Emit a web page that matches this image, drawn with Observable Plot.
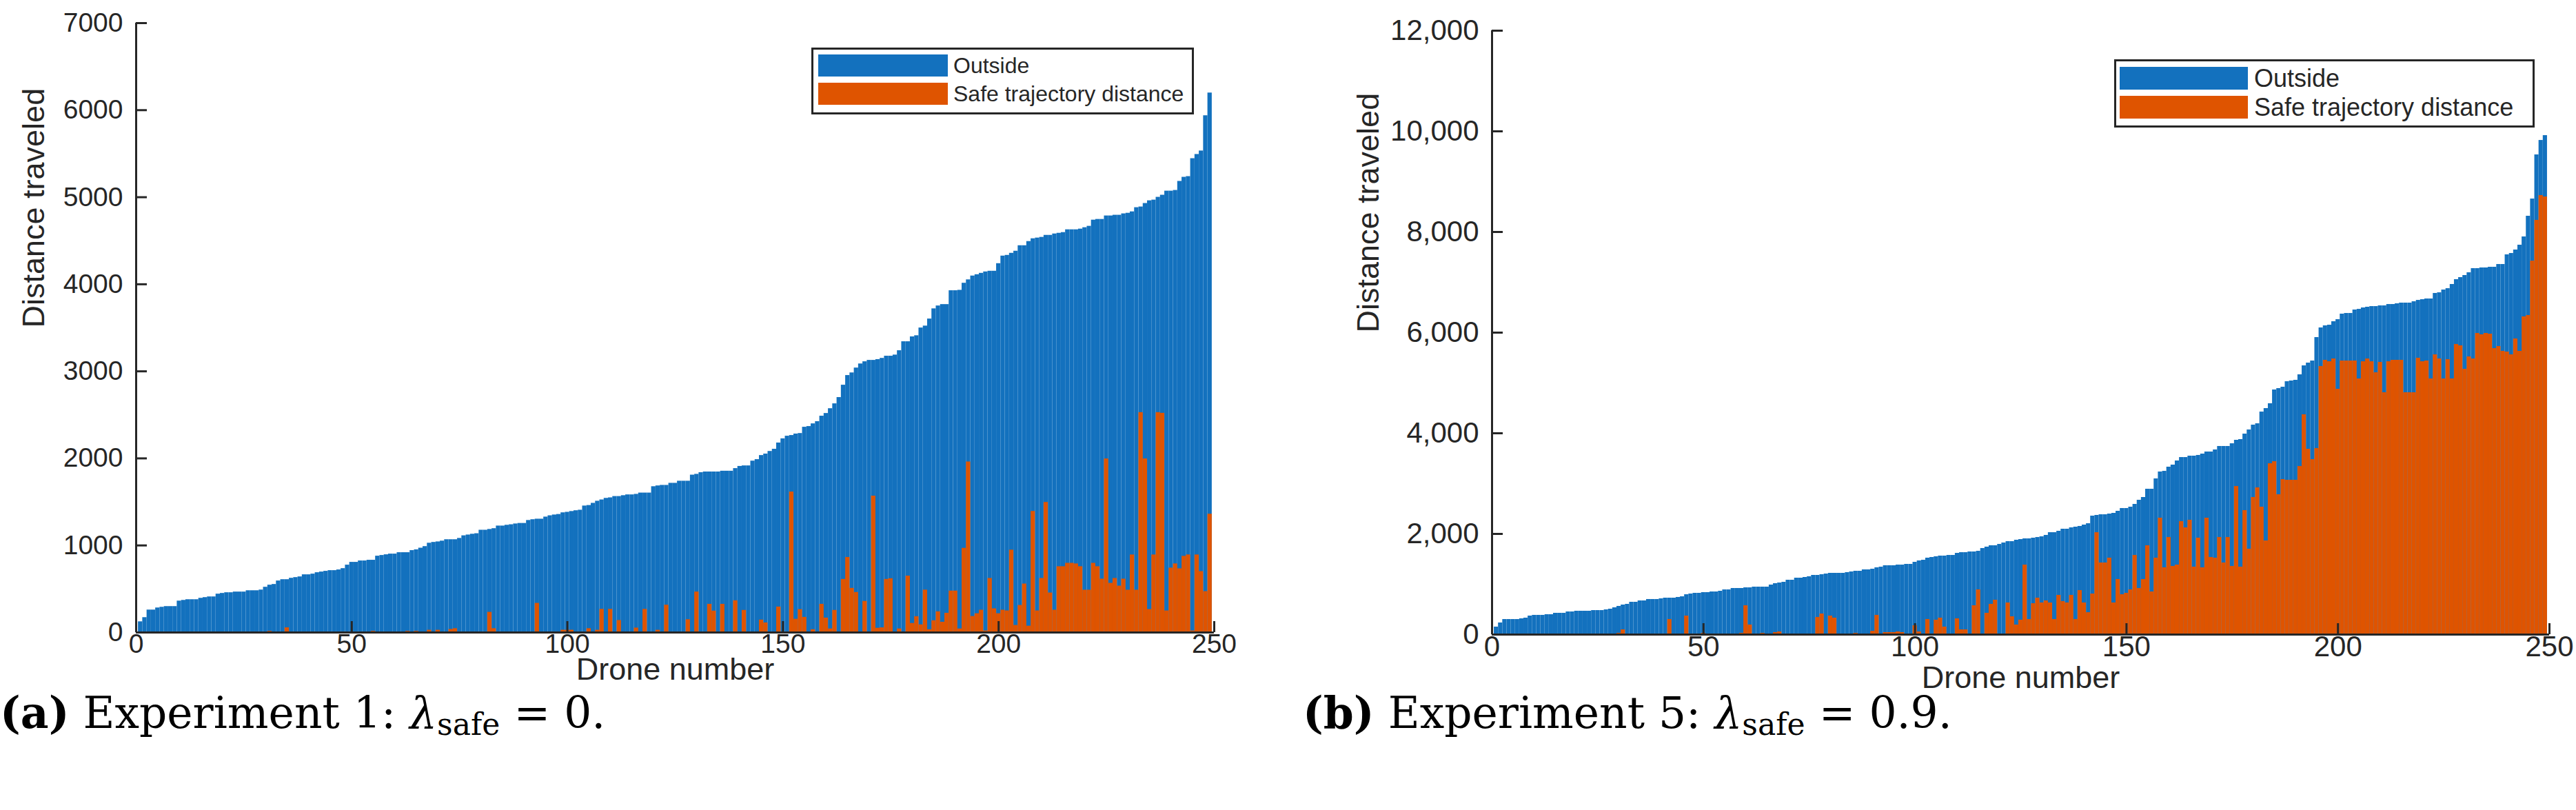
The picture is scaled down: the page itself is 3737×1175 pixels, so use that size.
<!DOCTYPE html>
<html>
<head>
<meta charset="utf-8">
<script src="https://cdn.jsdelivr.net/npm/d3@7"></script>
<script src="https://cdn.jsdelivr.net/npm/@observablehq/plot@0.6"></script>
<style>
  body { margin: 0; background: #fff; width: 3737px; height: 1175px; position: relative; overflow: hidden;
         font-family: "Liberation Sans", Arial, sans-serif; color: #262626; }
  .panel { position: absolute; top: 0; }
  .legend { position: absolute; box-sizing: border-box; border: 3px solid #262626; background: #fff; }
  .legend .row { position: absolute; display: flex; align-items: center; }
  .legend span { white-space: nowrap; }
  .cap { position: absolute; top: 1002px; font-family: "DejaVu Serif", "Liberation Serif", serif;
         font-size: 63px; line-height: 64px; color: #000; white-space: nowrap; }
  .cap sub { font-size: 0.7em; vertical-align: -0.22em; line-height: 0; }
</style>
</head>
<body>
<div id="left" class="panel" style="left:0"></div>
<div id="right" class="panel" style="left:1868px"></div>

<div class="legend" style="left:1177px; top:69px; width:555px; height:97px">
  <div class="row" style="left:7px; top:7px; height:32px">
    <div style="width:188px; height:32px; margin-right:8px; background:#1371be"></div>
    <span style="font-size:32px">Outside</span></div>
  <div class="row" style="left:7px; top:48px; height:32px">
    <div style="width:188px; height:32px; margin-right:8px; background:#df5400"></div>
    <span style="font-size:32px">Safe trajectory distance</span></div>
</div>
<div class="legend" style="left:3067px; top:86px; width:610px; height:99px">
  <div class="row" style="left:5px; top:8px; height:33px">
    <div style="width:186px; height:33px; margin-right:9px; background:#1371be"></div>
    <span style="font-size:36px">Outside</span></div>
  <div class="row" style="left:5px; top:50px; height:33px">
    <div style="width:186px; height:33px; margin-right:9px; background:#df5400"></div>
    <span style="font-size:36px">Safe trajectory distance</span></div>
</div>

<div class="cap" style="left:0"><b>(a)</b> Experiment 1: <i>λ</i><sub>safe</sub> = 0.</div>
<div class="cap" style="left:1890px"><b>(b)</b> Experiment 5: <i>λ</i><sub>safe</sub> = 0.9.</div>

<script>
const BLUE = "#1371be";
const ORANGE = "#df5400";
const INK = "#262626";

// Experiment 1 (lambda_safe = 0), drones 1..249, sorted by total distance
const leftOutside = [
  124, 172, 259, 259, 283, 291, 299, 299, 299, 362,
  370, 378, 378, 378, 394, 402, 410, 410, 442, 450,
  458, 458, 466, 466, 466, 481, 481, 481, 489, 521,
  545, 553, 593, 608, 608, 624, 632, 640, 664, 664,
  672, 688, 696, 704, 712, 712, 720, 735, 775, 807,
  807, 823, 823, 831, 831, 878, 886, 894, 902, 902,
  918, 918, 918, 942, 951, 970, 988, 1027, 1036, 1042,
  1051, 1067, 1067, 1067, 1082, 1112, 1121, 1130, 1136, 1176,
  1176, 1185, 1194, 1224, 1224, 1233, 1239, 1248, 1254, 1254,
  1288, 1297, 1303, 1303, 1327, 1342, 1351, 1357, 1376, 1382,
  1391, 1400, 1406, 1454, 1460, 1485, 1509, 1524, 1542, 1548,
  1563, 1563, 1573, 1582, 1582, 1588, 1603, 1603, 1603, 1676,
  1685, 1691, 1691, 1715, 1715, 1739, 1739, 1739, 1809, 1818,
  1837, 1845, 1845, 1845, 1845, 1854, 1854, 1854, 1884, 1909,
  1915, 1915, 1970, 1987, 2034, 2051, 2081, 2106, 2178, 2226,
  2256, 2264, 2281, 2287, 2359, 2367, 2398, 2423, 2486, 2517,
  2572, 2628, 2700, 2842, 2953, 2983, 3039, 3086, 3111, 3127,
  3127, 3136, 3150, 3175, 3175, 3188, 3238, 3341, 3341, 3397,
  3410, 3499, 3521, 3602, 3719, 3752, 3768, 3768, 3927, 3927,
  3932, 4013, 4052, 4096, 4111, 4127, 4143, 4151, 4151, 4238,
  4325, 4333, 4357, 4381, 4444, 4444, 4492, 4524, 4532, 4540,
  4563, 4563, 4579, 4587, 4595, 4627, 4627, 4627, 4635, 4651,
  4667, 4738, 4746, 4746, 4786, 4786, 4794, 4794, 4810, 4817,
  4833, 4881, 4889, 4929, 4960, 4968, 5000, 5024, 5071, 5071,
  5079, 5183, 5230, 5238, 5444, 5492, 5532, 5937, 6198
];
const leftSafe = [
  0, 0, 0, 0, 0, 0, 0, 0, 0, 0,
  0, 0, 0, 0, 0, 0, 0, 0, 0, 0,
  0, 0, 0, 0, 0, 0, 0, 0, 0, 0,
  15, 8, 0, 5, 55, 0, 0, 0, 0, 0,
  0, 0, 0, 0, 0, 0, 0, 0, 0, 0,
  0, 0, 0, 0, 15, 0, 0, 0, 0, 0,
  0, 0, 15, 0, 15, 0, 0, 27, 0, 27,
  0, 0, 36, 45, 0, 0, 0, 0, 0, 0,
  0, 233, 45, 0, 0, 0, 0, 6, 0, 0,
  0, 0, 336, 6, 0, 0, 0, 0, 27, 27,
  27, 0, 0, 0, 45, 0, 27, 267, 0, 267,
  0, 139, 0, 0, 0, 52, 0, 267, 0, 0,
  27, 0, 315, 0, 0, 0, 0, 148, 0, 466,
  0, 0, 325, 247, 0, 325, 0, 0, 366, 0,
  255, 0, 0, 8, 144, 111, 0, 0, 294, 0,
  0, 1615, 153, 264, 175, 0, 33, 0, 325, 167,
  42, 255, 0, 611, 863, 508, 461, 0, 358, 0,
  1568, 50, 55, 611, 619, 8, 42, 0, 649, 105,
  183, 89, 488, 33, 136, 239, 119, 222, 477, 477,
  42, 968, 1960, 185, 217, 257, 19, 622, 273, 217,
  257, 249, 947, 82, 312, 558, 74, 1392, 249, 622,
  1495, 455, 257, 757, 757, 796, 796, 789, 757, 487,
  487, 796, 757, 614, 1995, 566, 622, 534, 614, 487,
  892, 487, 2527, 1995, 265, 892, 2527, 2519, 249, 741,
  789, 733, 876, 892, 19, 892, 701, 471, 1360
];

// Experiment 5 (lambda_safe = 0.9)
const rightOutside = [
  151, 233, 301, 301, 301, 301, 315, 329, 370, 384,
  384, 384, 397, 397, 425, 425, 425, 452, 452, 466,
  466, 466, 466, 479, 479, 479, 493, 507, 534, 562,
  589, 603, 644, 644, 671, 671, 699, 699, 699, 712,
  726, 726, 726, 740, 753, 794, 808, 822, 822, 836,
  836, 849, 849, 863, 890, 890, 918, 918, 918, 931,
  931, 945, 945, 945, 945, 986, 1014, 1027, 1041, 1082,
  1082, 1123, 1123, 1137, 1151, 1178, 1178, 1192, 1205, 1219,
  1219, 1219, 1219, 1233, 1247, 1260, 1260, 1288, 1288, 1301,
  1329, 1342, 1370, 1370, 1370, 1383, 1383, 1397, 1397, 1438,
  1466, 1479, 1521, 1534, 1548, 1562, 1562, 1575, 1575, 1616,
  1630, 1630, 1644, 1644, 1657, 1712, 1740, 1767, 1767, 1794,
  1822, 1849, 1849, 1877, 1890, 1904, 1904, 1918, 1931, 1945,
  1973, 2027, 2027, 2055, 2096, 2096, 2123, 2137, 2151, 2178,
  2205, 2356, 2370, 2383, 2383, 2397, 2411, 2452, 2507, 2507,
  2534, 2589, 2671, 2726, 2890, 2890, 3096, 3233, 3246, 3329,
  3370, 3452, 3520, 3520, 3548, 3548, 3562, 3589, 3630, 3630,
  3671, 3740, 3740, 3740, 3794, 3863, 3877, 3986, 4068, 4164,
  4191, 4424, 4493, 4589, 4863, 4890, 4918, 5027, 5041, 5055,
  5164, 5342, 5397, 5438, 5904, 6096, 6137, 6150, 6219, 6260,
  6370, 6383, 6383, 6452, 6465, 6493, 6507, 6520, 6520, 6534,
  6534, 6561, 6561, 6575, 6589, 6589, 6589, 6616, 6643, 6657,
  6671, 6671, 6781, 6794, 6849, 6876, 6959, 7055, 7096, 7137,
  7192, 7274, 7274, 7288, 7288, 7301, 7301, 7356, 7356, 7548,
  7575, 7644, 7740, 7904, 8315, 8657, 9534, 9821, 9917
];
const rightSafe = [
  0, 0, 0, 0, 0, 0, 0, 0, 0, 0,
  0, 0, 0, 0, 0, 0, 0, 0, 0, 0,
  0, 0, 0, 0, 0, 0, 0, 0, 0, 27,
  96, 0, 0, 0, 0, 0, 0, 0, 0, 0,
  0, 301, 0, 0, 0, 370, 0, 0, 0, 27,
  0, 0, 0, 0, 0, 0, 0, 0, 27, 575,
  192, 0, 0, 27, 0, 0, 41, 55, 0, 0,
  0, 0, 0, 0, 0, 0, 342, 411, 0, 370,
  329, 0, 0, 0, 0, 27, 0, 0, 0, 68,
  384, 0, 41, 41, 41, 55, 41, 0, 0, 178,
  55, 0, 301, 0, 288, 329, 151, 0, 0, 315,
  96, 96, 0, 575, 890, 0, 425, 603, 685, 0,
  0, 630, 356, 192, 288, 1383, 301, 616, 726, 630,
  671, 630, 301, 781, 658, 630, 781, 301, 877, 630,
  438, 808, 2027, 1425, 1425, 1521, 630, 1096, 794, 822,
  890, 1575, 918, 1096, 1767, 849, 1521, 2315, 1329, 1931,
  1356, 1383, 2247, 2123, 2274, 1342, 1918, 1329, 2315, 1534,
  1520, 1931, 1425, 1931, 1356, 2945, 1342, 2466, 1699, 2726,
  2918, 2534, 1863, 3397, 3438, 2781, 3082, 3068, 3068, 3068,
  3342, 4370, 3685, 3479, 3699, 5329, 5452, 5424, 5479, 4877,
  5438, 5438, 5438, 5438, 5082, 5424, 5479, 5424, 5205, 5411,
  4808, 5424, 5452, 5452, 5452, 4808, 4808, 4808, 5493, 5424,
  5438, 5082, 5561, 5479, 5082, 5465, 5082, 5767, 5740, 5274,
  5520, 5479, 5986, 5959, 5986, 5972, 5685, 5726, 5630, 5616,
  5561, 5877, 5630, 6315, 6342, 7424, 8233, 8726, 8698
];

const xTicks = [0, 50, 100, 150, 200, 250];
const leftYTicks = [0, 1000, 2000, 3000, 4000, 5000, 6000, 7000];
const rightYTicks = [0, 2000, 4000, 6000, 8000, 10000, 12000];

function panel({outside, safe, yMax, yTicks, yFormat, width, marginLeft, marginRight, marginTop, marginBottom,
                tickFont, labelFont, labelDx, labelDy}) {
  const height = 1030;
  const rows = outside.map((v, i) => ({drone: i + 1, outside: v, safe: safe[i]}));
  const frameW = width - marginLeft - marginRight;
  const frameH = height - marginTop - marginBottom;
  const tickX = 250 * 16 / frameW;   // 16px inward tick, in data units
  const tickY = yMax * 16 / frameH;
  return Plot.plot({
    width, height, marginLeft, marginRight, marginTop, marginBottom,
    style: {fontFamily: "Liberation Sans, Arial, sans-serif", color: INK, background: "white", overflow: "visible"},
    x: {domain: [0, 250], axis: null},
    y: {domain: [0, yMax], axis: null},
    marks: [
      Plot.rectY(rows, {x1: d => d.drone - 0.5, x2: d => d.drone + 0.5, y: "outside", fill: BLUE}),
      Plot.rectY(rows, {x1: d => d.drone - 0.5, x2: d => d.drone + 0.5, y: "safe", fill: ORANGE}),
      Plot.ruleX([0], {stroke: INK, strokeWidth: 3}),
      Plot.ruleY([0], {stroke: INK, strokeWidth: 3}),
      Plot.ruleY(yTicks, {y: d => d, x1: 0, x2: tickX, stroke: INK, strokeWidth: 3}),
      Plot.ruleX(xTicks, {x: d => d, y1: 0, y2: tickY, stroke: INK, strokeWidth: 3}),
      Plot.axisY({ticks: yTicks, tickSize: 0, tickPadding: 19, fontSize: tickFont, tickFormat: yFormat, label: null}),
      Plot.axisX({ticks: xTicks, tickSize: 0, tickPadding: 2, fontSize: tickFont, tickFormat: d => String(d), label: null}),
      Plot.text(["Distance traveled"], {frameAnchor: "left", dx: labelDx, rotate: -90, fontSize: labelFont, fill: INK}),
      Plot.text(["Drone number"], {frameAnchor: "bottom", dy: labelDy, fontSize: labelFont, fill: INK})
    ]
  });
}

document.getElementById("left").append(panel({
  outside: leftOutside, safe: leftSafe, yMax: 7000, yTicks: leftYTicks, yFormat: d => String(d),
  width: 1868, marginLeft: 197, marginRight: 107, marginTop: 33, marginBottom: 113,
  tickFont: 39, labelFont: 45, labelDx: -148, labelDy: 68
}));
document.getElementById("right").append(panel({
  outside: rightOutside, safe: rightSafe, yMax: 12000, yTicks: rightYTicks, yFormat: d3.format(","),
  width: 1869, marginLeft: 296, marginRight: 39, marginTop: 44, marginBottom: 110,
  tickFont: 42, labelFont: 45, labelDx: -179, labelDy: 77
}));
</script>
</body>
</html>
